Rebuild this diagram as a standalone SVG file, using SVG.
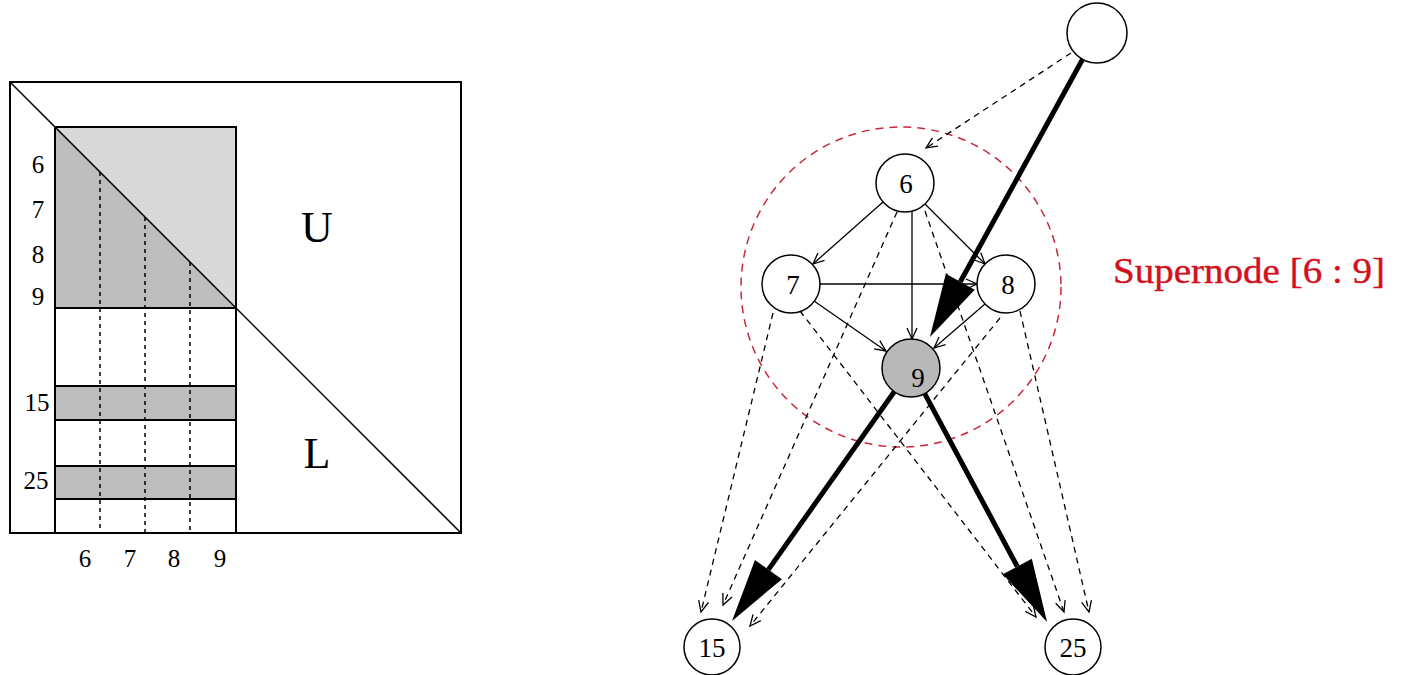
<svg xmlns="http://www.w3.org/2000/svg" width="1401" height="675" viewBox="0 0 1401 675">
<style>
.lbl{font-family:"Liberation Serif","Times New Roman",serif;font-size:25px;fill:#000;text-anchor:middle}
.big{font-family:"Liberation Serif","Times New Roman",serif;font-size:44px;fill:#000;text-anchor:middle}
.nl{font-family:"Liberation Serif","Times New Roman",serif;font-size:27px;fill:#000;text-anchor:middle}
.node{fill:#fff;stroke:#000;stroke-width:1.5}
.thin{stroke:#000;stroke-width:1.3;fill:none;marker-end:url(#open)}
.dash{stroke:#000;stroke-width:1.3;fill:none;stroke-dasharray:6 5;marker-end:url(#open)}
.thick{stroke:#000;stroke-width:5;fill:none;marker-end:url(#big)}
.vd{stroke:#000;stroke-width:1.5;stroke-dasharray:4 4}
</style>
<defs>
<marker id="open" markerUnits="userSpaceOnUse" markerWidth="14" markerHeight="12" refX="11" refY="5" orient="auto" viewBox="0 0 14 12" overflow="visible">
<path d="M0,0 L11,5 L0,10" fill="none" stroke="#000" stroke-width="1.3" stroke-dasharray="none"/>
</marker>
<marker id="big" markerUnits="userSpaceOnUse" markerWidth="64" markerHeight="34" refX="0" refY="17" orient="auto" viewBox="0 0 64 34" overflow="visible">
<path d="M0,0.5 L63,17 L0,33.5 Z" fill="#000" stroke="none"/>
</marker>
</defs>
<rect width="1401" height="675" fill="#fff"/>
<g id="matrix">
<polygon points="55,127 236,127 236,308" fill="#d9d9d9"/>
<polygon points="55,127 236,308 55,308" fill="#bdbdbd"/>
<rect x="55" y="386" width="181" height="34" fill="#bdbdbd" stroke="#000" stroke-width="2"/>
<rect x="55" y="466" width="181" height="33" fill="#bdbdbd" stroke="#000" stroke-width="2"/>
<line class="vd" x1="100" y1="172" x2="100" y2="533"/>
<line class="vd" x1="145" y1="217" x2="145" y2="533"/>
<line class="vd" x1="190" y1="262" x2="190" y2="533"/>
<rect x="55" y="127" width="181" height="406" fill="none" stroke="#000" stroke-width="2"/>
<line x1="55" y1="308" x2="236" y2="308" stroke="#000" stroke-width="2"/>
<rect x="10" y="82" width="451" height="451" fill="none" stroke="#000" stroke-width="2"/>
<line x1="10" y1="82" x2="461" y2="533" stroke="#000" stroke-width="1.5"/>
<text class="lbl" x="38" y="173">6</text>
<text class="lbl" x="38" y="218">7</text>
<text class="lbl" x="38" y="263">8</text>
<text class="lbl" x="38" y="305">9</text>
<text class="lbl" x="37" y="411">15</text>
<text class="lbl" x="36" y="489">25</text>
<text class="lbl" x="85" y="567">6</text>
<text class="lbl" x="130" y="567">7</text>
<text class="lbl" x="174" y="567">8</text>
<text class="lbl" x="220" y="567">9</text>
<text class="big" x="317" y="242">U</text>
<text class="big" x="317" y="468">L</text>
</g>
<g id="supernode">
<circle cx="901" cy="287" r="160" fill="none" stroke="#c8283c" stroke-width="1.5" stroke-dasharray="8 6"/>
<text x="1113" y="283" font-family="'Liberation Serif','Times New Roman',serif" font-size="36" fill="#d4101c" stroke="#d4101c" stroke-width="0.4" textLength="272" lengthAdjust="spacingAndGlyphs">Supernode [6 : 9]</text>
</g>
<g id="connectors">
<line class="dash" x1="1071" y1="53" x2="926" y2="148"/>
<line class="thin" x1="883" y1="202" x2="813" y2="264"/>
<line class="thin" x1="925" y1="204" x2="985" y2="264"/>
<line class="thin" x1="912" y1="212" x2="912" y2="339"/>
<line class="thin" x1="820" y1="284" x2="977" y2="284"/>
<line class="thin" x1="814" y1="301" x2="886" y2="351"/>
<line class="thin" x1="985" y1="304" x2="934" y2="348"/>
<line class="dash" x1="897" y1="212" x2="723" y2="605"/>
<line class="dash" x1="773" y1="313" x2="701" y2="612"/>
<line class="dash" x1="1000" y1="318" x2="750" y2="626"/>
<line class="dash" x1="800" y1="311" x2="1036" y2="617"/>
<line class="dash" x1="925" y1="211" x2="1064" y2="612"/>
<line class="dash" x1="1020" y1="311" x2="1089" y2="612"/>
<line class="thick" x1="1082.6" y1="59.3" x2="960.3" y2="281.8"/>
<line class="thick" x1="894.2" y1="391.7" x2="768.4" y2="569.6"/>
<line class="thick" x1="924.7" y1="393.6" x2="1017.3" y2="566.5"/>
</g>
<g id="n-top"><circle class="node" cx="1097" cy="33" r="30"/></g>
<g id="n6"><circle class="node" cx="905" cy="183" r="29"/><text class="nl" x="906" y="193">6</text></g>
<g id="n7"><circle class="node" cx="791" cy="284" r="29"/><text class="nl" x="793" y="294">7</text></g>
<g id="n8"><circle class="node" cx="1006" cy="284" r="29"/><text class="nl" x="1008" y="294">8</text></g>
<g id="n9"><circle class="node" cx="911" cy="368" r="29" style="fill:#b8b8b8"/><text class="nl" x="918" y="387">9</text></g>
<g id="n15"><circle class="node" cx="712" cy="647" r="28"/><text class="nl" x="712" y="657">15</text></g>
<g id="n25"><circle class="node" cx="1073" cy="647" r="28"/><text class="nl" x="1073" y="657">25</text></g>
</svg>
